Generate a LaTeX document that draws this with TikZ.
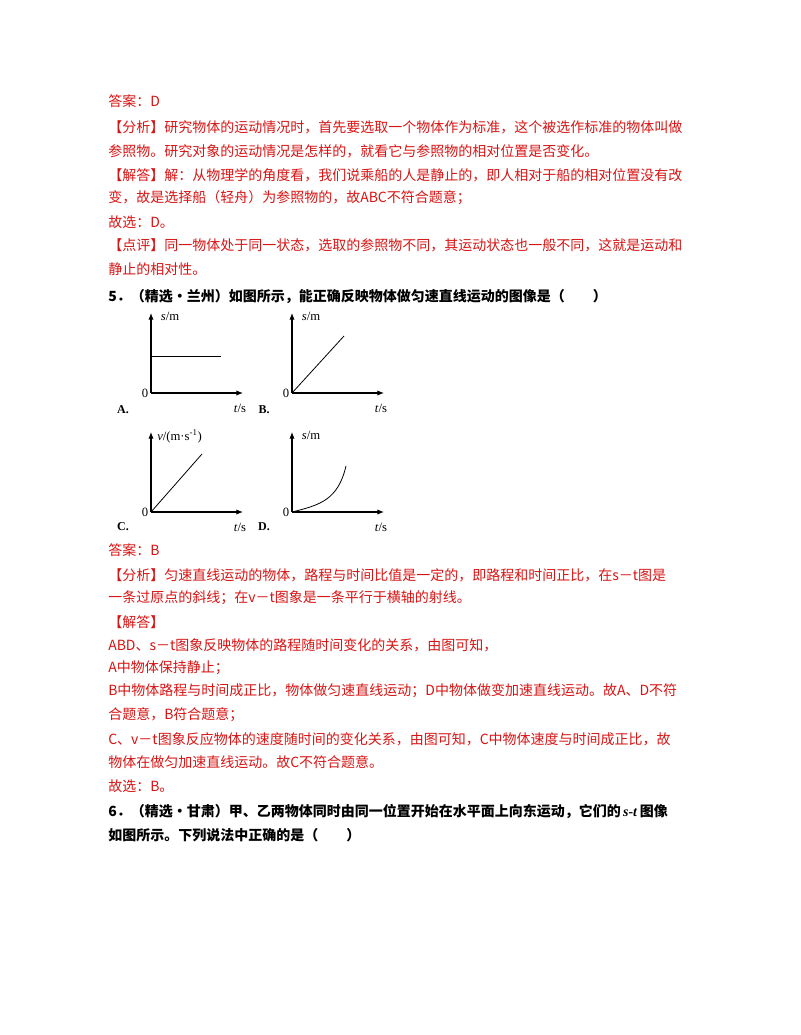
\documentclass[tikz,border=0pt]{standalone}
\usepackage{fontspec}
\usetikzlibrary{arrows.meta}
\setmainfont{Noto Sans CJK SC}
\newfontfamily\lser{Liberation Serif}
\definecolor{ansred}{RGB}{215,20,20}
\begin{document}
\begin{tikzpicture}[x=0.75pt,y=-0.75pt,
  txt/.style={anchor=west,inner sep=0pt,font=\fontsize{10.5pt}{12pt}\selectfont},
  red/.style={txt,text=ansred},
  q/.style={txt,font=\fontsize{10.5pt}{12pt}\selectfont\bfseries},
  ax/.style={line width=0.8pt,-{Latex[length=5pt,width=4pt]}},
  crv/.style={line width=0.6pt},
  lab/.style={inner sep=0pt,font=\lser\fontsize{9.5pt}{11pt}\selectfont},
  opt/.style={inner sep=0pt,font=\lser\bfseries\fontsize{9pt}{11pt}\selectfont}]
\useasboundingbox (0,0) rectangle (800,1035);
\node[red] (l1) at (108,101) {答案：D};
\node[red] (l2) at (108,127) {【分析】研究物体的运动情况时，首先要选取一个物体作为标准，这个被选作标准的物体叫做};
\node[red] (l3) at (108,151) {参照物。研究对象的运动情况是怎样的，就看它与参照物的相对位置是否变化。};
\node[red] (l4) at (108,175) {【解答】解：从物理学的角度看，我们说乘船的人是静止的，即人相对于船的相对位置没有改};
\node[red] (l5) at (108,198) {变，故是选择船（轻舟）为参照物的，故ABC不符合题意；};
\node[red] (l6) at (108,222) {故选：D。};
\node[red] (l7) at (108,245) {【点评】同一物体处于同一状态，选取的参照物不同，其运动状态也一般不同，这就是运动和};
\node[red] (l8) at (108,269) {静止的相对性。};
\node[q] (q5) at (108,297) {5．（精选•兰州）如图所示，能正确反映物体做匀速直线运动的图像是（\qquad）};
% graph A
\coordinate (oA) at (151,393);
\draw[ax] (oA) -- (151,313);
\draw[ax] (oA) -- (243,393);
\draw[crv] (151,356) -- (221,356);
\node[lab] (sA) at (170,316) {\textit{s}/m};
\node[lab] (zA) at (145,393) {0};
\node[lab] (tA) at (240,408) {\textit{t}/s};
\node[opt] (A) at (123,410) {A.};
% graph B
\coordinate (oB) at (292,393);
\draw[ax] (oB) -- (292,313);
\draw[ax] (oB) -- (384,393);
\draw[crv] (oB) -- (344,336);
\node[lab] (sB) at (311,316) {\textit{s}/m};
\node[lab] (zB) at (286,393) {0};
\node[lab] (tB) at (381,408) {\textit{t}/s};
\node[opt] (B) at (264,410) {B.};
% graph C
\coordinate (oC) at (151,512);
\draw[ax] (oC) -- (151,432);
\draw[ax] (oC) -- (243,512);
\draw[crv] (oC) -- (202,454);
\node[lab,anchor=west] (sC) at (157,436) {\textit{v}/(m·s\textsuperscript{-1})};
\node[lab] (zC) at (145,512) {0};
\node[lab] (tC) at (240,527) {\textit{t}/s};
\node[opt] (C) at (123,527) {C.};
% graph D
\coordinate (oD) at (292,512);
\draw[ax] (oD) -- (292,432);
\draw[ax] (oD) -- (384,512);
\draw[crv] (oD) .. controls (320,505) and (338,500) .. (346,466);
\node[lab] (sD) at (311,435) {\textit{s}/m};
\node[lab] (zD) at (286,512) {0};
\node[lab] (tD) at (381,527) {\textit{t}/s};
\node[opt] (D) at (264,527) {D.};
% answer
\node[red] (m1) at (108,550) {答案：B};
\node[red] (m2) at (108,575) {【分析】匀速直线运动的物体，路程与时间比值是一定的，即路程和时间正比，在s－t图是};
\node[red] (m3) at (108,598) {一条过原点的斜线；在v－t图象是一条平行于横轴的射线。};
\node[red] (m4) at (108,622) {【解答】};
\node[red] (m5) at (108,645) {ABD、s－t图象反映物体的路程随时间变化的关系，由图可知，};
\node[red] (m6) at (108,668) {A中物体保持静止；};
\node[red] (m7) at (108,691) {B中物体路程与时间成正比，物体做匀速直线运动；D中物体做变加速直线运动。故A、D不符};
\node[red] (m8) at (108,715) {合题意，B符合题意；};
\node[red] (m9) at (108,739) {C、v－t图象反应物体的速度随时间的变化关系，由图可知，C中物体速度与时间成正比，故};
\node[red] (m10) at (108,762) {物体在做匀加速直线运动。故C不符合题意。};
\node[red] (m11) at (108,786) {故选：B。};
\node[q] (q6) at (108,811) {6．（精选•甘肃）甲、乙两物体同时由同一位置开始在水平面上向东运动，它们的\,{\lser\textit{s-t}}\,图像};
\node[q] (q6b) at (108,835) {如图所示。下列说法中正确的是（\qquad）};
\end{tikzpicture}
\end{document}
